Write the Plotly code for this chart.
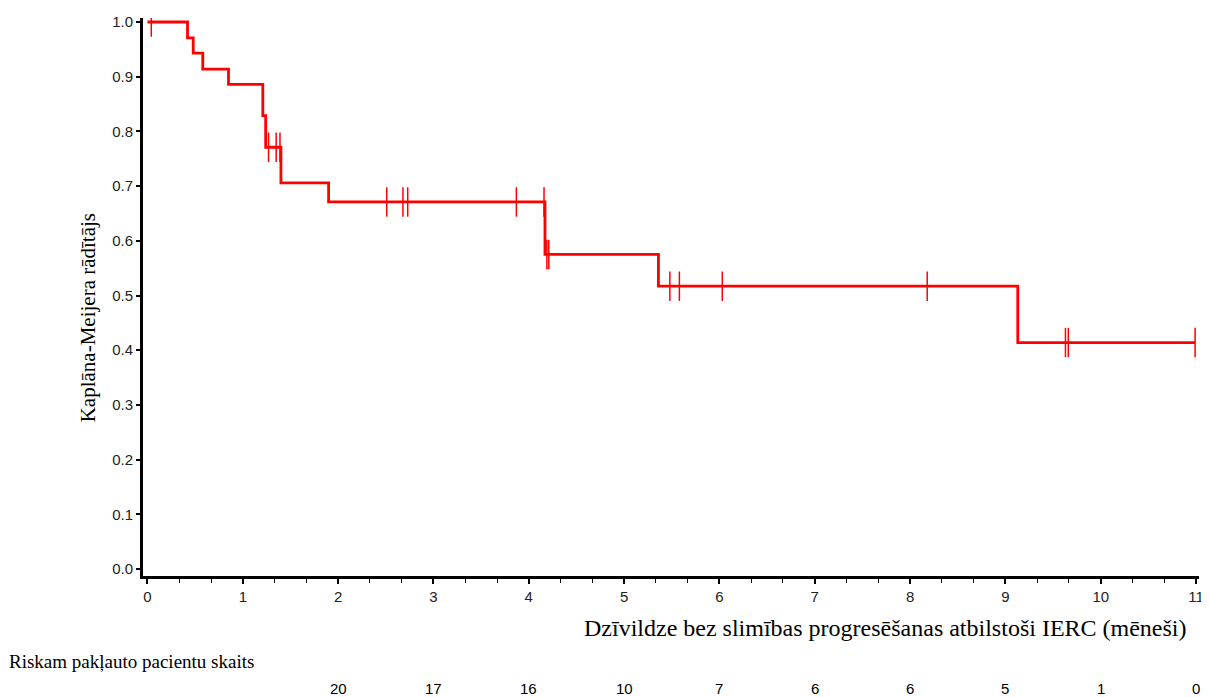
import plotly.graph_objects as go

# Kaplan-Meier step data (months, survival probability)
step_times = [0.0, 0.42, 0.48, 0.58, 0.85, 1.21, 1.24, 1.40, 1.90, 4.17, 5.36, 9.13, 10.99]
step_surv = [1.0, 0.971, 0.943, 0.914, 0.886, 0.829, 0.771, 0.706, 0.671, 0.575, 0.517, 0.414, 0.414]

# censored observation times
censor_times = [0.04, 1.27, 1.35, 1.39, 2.51, 2.68, 2.73, 3.87, 4.16, 4.19, 4.21,
                5.48, 5.58, 6.03, 8.18, 9.63, 9.66, 10.99]

# number at risk
risk_times = [0, 1, 2, 3, 4, 5, 6, 7, 8, 9, 10, 11]
risk_counts = [35, 30, 20, 17, 16, 10, 7, 6, 6, 5, 1, 0]

x_ticks = list(range(0, 12))
y_ticks = [0.0, 0.1, 0.2, 0.3, 0.4, 0.5, 0.6, 0.7, 0.8, 0.9, 1.0]

y_title = "Kaplāna-Meijera rādītājs"
x_title = "Dzīvildze bez slimības progresēšanas atbilstoši IERC (mēneši)"
risk_title = "Riskam pakļauto pacientu skaits"


def surv_at(t):
    s = step_surv[0]
    for tt, ss in zip(step_times, step_surv):
        if tt <= t:
            s = ss
    return s


censor_surv = [surv_at(t) for t in censor_times]

fig = go.Figure()
fig.add_trace(go.Scatter(
    x=step_times, y=step_surv, mode="lines", line=dict(color="#FF0000", width=2.8, shape="hv"),
    hoverinfo="skip", showlegend=False))
fig.add_trace(go.Scatter(
    x=censor_times, y=censor_surv, mode="markers",
    marker=dict(symbol="line-ns", size=21, line=dict(color="#FF0000", width=1.5)),
    showlegend=False))

serif = "Liberation Serif, Times New Roman, serif"
sans = "Liberation Sans, Arial, sans-serif"
narrow = "Liberation Sans Narrow, Liberation Sans, Arial, sans-serif"

annotations = [
    dict(text=y_title, xref="paper", yref="paper", x=-0.052, y=0.462, textangle=-90,
         xanchor="center", yanchor="middle",
         showarrow=False, font=dict(family=serif, size=21, color="#000")),
    dict(text=x_title, xref="paper", yref="paper", x=0.991, y=-0.093, xanchor="right",
         yanchor="middle", showarrow=False, font=dict(family=serif, size=24, color="#000")),
    dict(text=risk_title, xref="paper", yref="paper", x=-0.129, y=-0.154, xanchor="left",
         yanchor="middle", showarrow=False, font=dict(family=serif, size=19, color="#000")),
]
for t, c in zip(risk_times, risk_counts):
    yy = -0.2258 if t < 2 else -0.2025
    annotations.append(dict(text=str(c), xref="x", yref="paper", x=t, y=yy,
                            xanchor="center", yanchor="middle", showarrow=False,
                            font=dict(family=narrow, size=15, color="#000")))

fig.update_layout(
    width=1201, height=689,
    margin=dict(l=135, r=5, t=8, b=121),
    paper_bgcolor="white", plot_bgcolor="white",
    annotations=annotations,
    xaxis=dict(range=[-0.047, 11.031], tickvals=x_ticks, ticktext=[str(v) for v in x_ticks],
               showgrid=False, zeroline=False, showline=True, linecolor="black", linewidth=3,
               ticks="outside", ticklen=5, tickwidth=1.5, tickcolor="black",
               tickfont=dict(family=sans, size=15, color="#222"),
               minor=dict(dtick=1 / 3, tick0=0, ticks="outside", ticklen=4, tickcolor="black", tickwidth=1)),
    yaxis=dict(range=[-0.0128, 1.0073], tickvals=y_ticks, ticktext=[f"{v:.1f}" for v in y_ticks],
               showgrid=False, zeroline=False, showline=True, linecolor="black", linewidth=3,
               ticks="outside", ticklen=4, tickwidth=1.5, tickcolor="black",
               tickfont=dict(family=sans, size=15, color="#222")),
)

fig.write_html("out.html")
